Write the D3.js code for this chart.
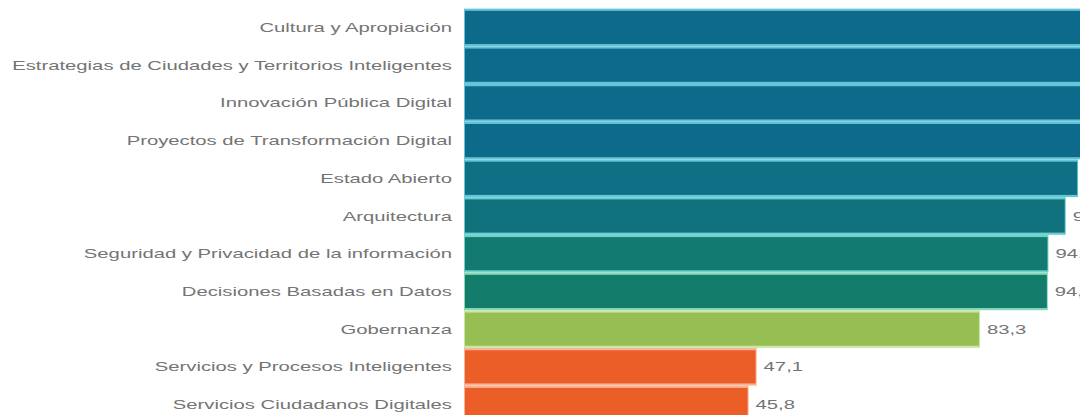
<!DOCTYPE html>
<html>
<head>
<meta charset="utf-8">
<script src="https://cdn.jsdelivr.net/npm/d3@7"></script>
<style>
  html, body { margin: 0; padding: 0; background: #ffffff; overflow: hidden; }
  svg { display: block; }
  text { font-family: "Liberation Sans", Arial, sans-serif; }
</style>
</head>
<body>
<svg id="chart" width="1080" height="415"></svg>
<script>
// ---- data ----
const categories = [
  "Cultura y Apropiación",
  "Estrategias de Ciudades y Territorios Inteligentes",
  "Innovación Pública Digital",
  "Proyectos de Transformación Digital",
  "Estado Abierto",
  "Arquitectura",
  "Seguridad y Privacidad de la información",
  "Decisiones Basadas en Datos",
  "Gobernanza",
  "Servicios y Procesos Inteligentes",
  "Servicios Ciudadanos Digitales"
];
const values = [100, 100, 100, 100, 99.2, 97.2, 94.4, 94.3, 83.3, 47.1, 45.8];
const valueLabels = ["100", "100", "100", "100", "99,2", "97,2", "94,4", "94,3", "83,3", "47,1", "45,8"];

// ---- style ----
const barColors = ["#0d6a8a", "#0d6a8a", "#0d6a8a", "#0d6a8a", "#0e6f85", "#10727d", "#127a70", "#147c6a", "#96be52", "#ec5e28", "#ec5e28"];
const haloColors = ["#62c2d8", "#62c2d8", "#62c2d8", "#62c2d8", "#66c6d4", "#6acbcf", "#70d2c6", "#84d8b8", "#c8e6a4", "#f7b394", "#f7b394"];

const svg = d3.select("#chart");
const W = 1080, H = 415;

const x = d3.scaleLinear().domain([0, 100]).range([465, 1082]);
const y = d3.scaleBand().domain(categories).range([8.6, 423.4]).paddingInner(0.12).paddingOuter(0.06);

const rows = categories.map((c, i) => ({ c, v: values[i], lab: valueLabels[i], i }));

// halos (light tint in the gaps)
svg.append("g").selectAll("rect").data(rows).join("rect")
  .attr("x", d => x(0) - 1)
  .attr("y", d => y(d.c) - 2.2)
  .attr("width", d => x(d.v) - x(0) + 2)
  .attr("height", y.bandwidth() + 4.4)
  .attr("fill", d => haloColors[d.i]);

// bars
svg.append("g").selectAll("rect").data(rows).join("rect")
  .attr("x", x(0))
  .attr("y", d => y(d.c))
  .attr("width", d => x(d.v) - x(0))
  .attr("height", y.bandwidth())
  .attr("fill", d => barColors[d.i]);

// category labels
const fs = 13;
const catG = svg.append("g");
const cats = catG.selectAll("g").data(rows).join("g")
  .attr("transform", d => `translate(452,${y(d.c) + y.bandwidth() / 2})`);
const catText = cats.append("text")
  .attr("text-anchor", "end")
  .attr("dy", "0.35em")
  .attr("font-size", fs)
  .attr("fill", "#747474")
  .text(d => d.c);

// fit the longest label to span x≈12..452
let maxW = 0;
catText.each(function () { maxW = Math.max(maxW, this.getComputedTextLength()); });
const sx = 440 / maxW;
catText.attr("transform", `scale(${sx},1)`);

// value labels (only those that begin inside the picture)
const labelOffset = 8;
svg.append("g").selectAll("g").data(rows.filter(d => x(d.v) + labelOffset < W - 5)).join("g")
  .attr("transform", d => `translate(${x(d.v) + labelOffset},${y(d.c) + y.bandwidth() / 2})`)
  .append("text")
  .attr("dy", "0.35em")
  .attr("font-size", fs)
  .attr("fill", "#747474")
  .attr("transform", `scale(${sx},1)`)
  .text(d => d.lab);
</script>
</body>
</html>
